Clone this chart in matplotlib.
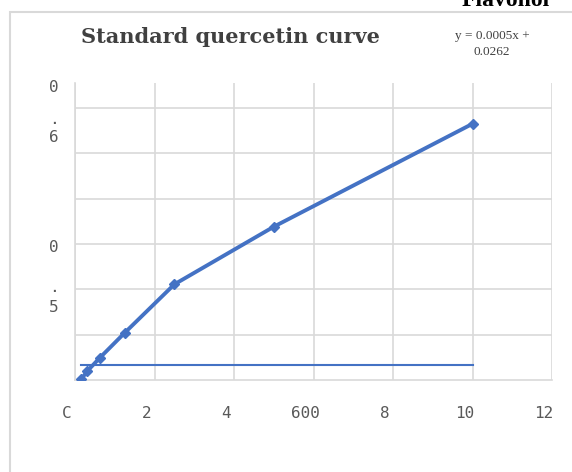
import matplotlib
matplotlib.use("Agg")
import matplotlib.pyplot as plt
import matplotlib.transforms as mtransforms
from matplotlib.patches import Rectangle

# Data
conc = [0.156, 0.3125, 0.625, 1.25, 2.5, 5, 10]
absorb = [0.0015, 0.020, 0.049, 0.104, 0.211, 0.338, 0.565]
base_x = [0.156, 10]
base_y = [0.033, 0.033]
xticks = [0, 2, 4, 6, 8, 10, 12]
xtick_labels = ['C', '2', '4', '600', '8', '10', '12']
ygrid = [0.1, 0.2, 0.3, 0.4, 0.5, 0.6]
ytick_labels = ['0.6', '0.5']
title = 'Standard quercetin curve'
equation = 'y = 0.0005x +\n0.0262'
corner_text = 'Flavonol'

W, H = 572, 472
fig = plt.figure(figsize=(W / 100, H / 100), dpi=100)

# chart frame
fig.patches.append(Rectangle((10 / W, -0.1), 1.2, 1 - 12 / H + 0.1,
                             transform=fig.transFigure, fill=False,
                             edgecolor='#d9d9d9', linewidth=1.5))

ax = fig.add_axes([75 / W, 1 - 380 / H, (552 - 75) / W, (380 - 83) / H])
blue = '#4472C4'
ax.plot(conc, absorb, color=blue, lw=2.8, marker='D', ms=5, zorder=3)
ax.plot(base_x, base_y, color=blue, lw=1.5, zorder=3)

ax.set_xlim(0, 12)
ax.set_ylim(0, 0.655)
ax.set_xticks(xticks)
ax.set_xticklabels(xtick_labels, family='DejaVu Sans Mono', fontsize=11.5, color='#595959')
ax.set_yticks(ygrid)
ax.set_yticklabels([])
ax.tick_params(length=0, pad=19)
offset = mtransforms.ScaledTranslation(-8 / 100, 0, fig.dpi_scale_trans)
for lbl in ax.get_xticklabels():
    lbl.set_transform(lbl.get_transform() + offset)
ax.grid(True, color='#d9d9d9', lw=1.2)
ax.set_axisbelow(True)
for s in ['top', 'right']:
    ax.spines[s].set_visible(False)
for s in ['left', 'bottom']:
    ax.spines[s].set_color('#d9d9d9')
    ax.spines[s].set_linewidth(1.2)

# wrapped y tick labels (characters stacked)
ylab_pos = {'0.6': [88, 120, 138], '0.5': [247, 287, 308]}
for lab in ytick_labels:
    for ch, py in zip(lab, ylab_pos[lab]):
        fig.text(54 / W, 1 - py / H, ch, ha='center', va='center',
                 family='DejaVu Sans Mono', fontsize=11.5, color='#595959')

fig.text(230 / W, 1 - 37 / H, title, ha='center', va='center',
         family='DejaVu Serif', weight='bold', fontsize=15, color='#404040')
fig.text(492 / W, 1 - 44 / H, equation, ha='center', va='center',
         family='Liberation Serif', fontsize=9.5, color='#404040', linespacing=1.5)
fig.text(462 / W, 1 - 6 / H, corner_text, ha='left', va='baseline',
         family='Liberation Serif', weight='bold', fontsize=17, color='black')

fig.savefig('out.png', dpi=100)
